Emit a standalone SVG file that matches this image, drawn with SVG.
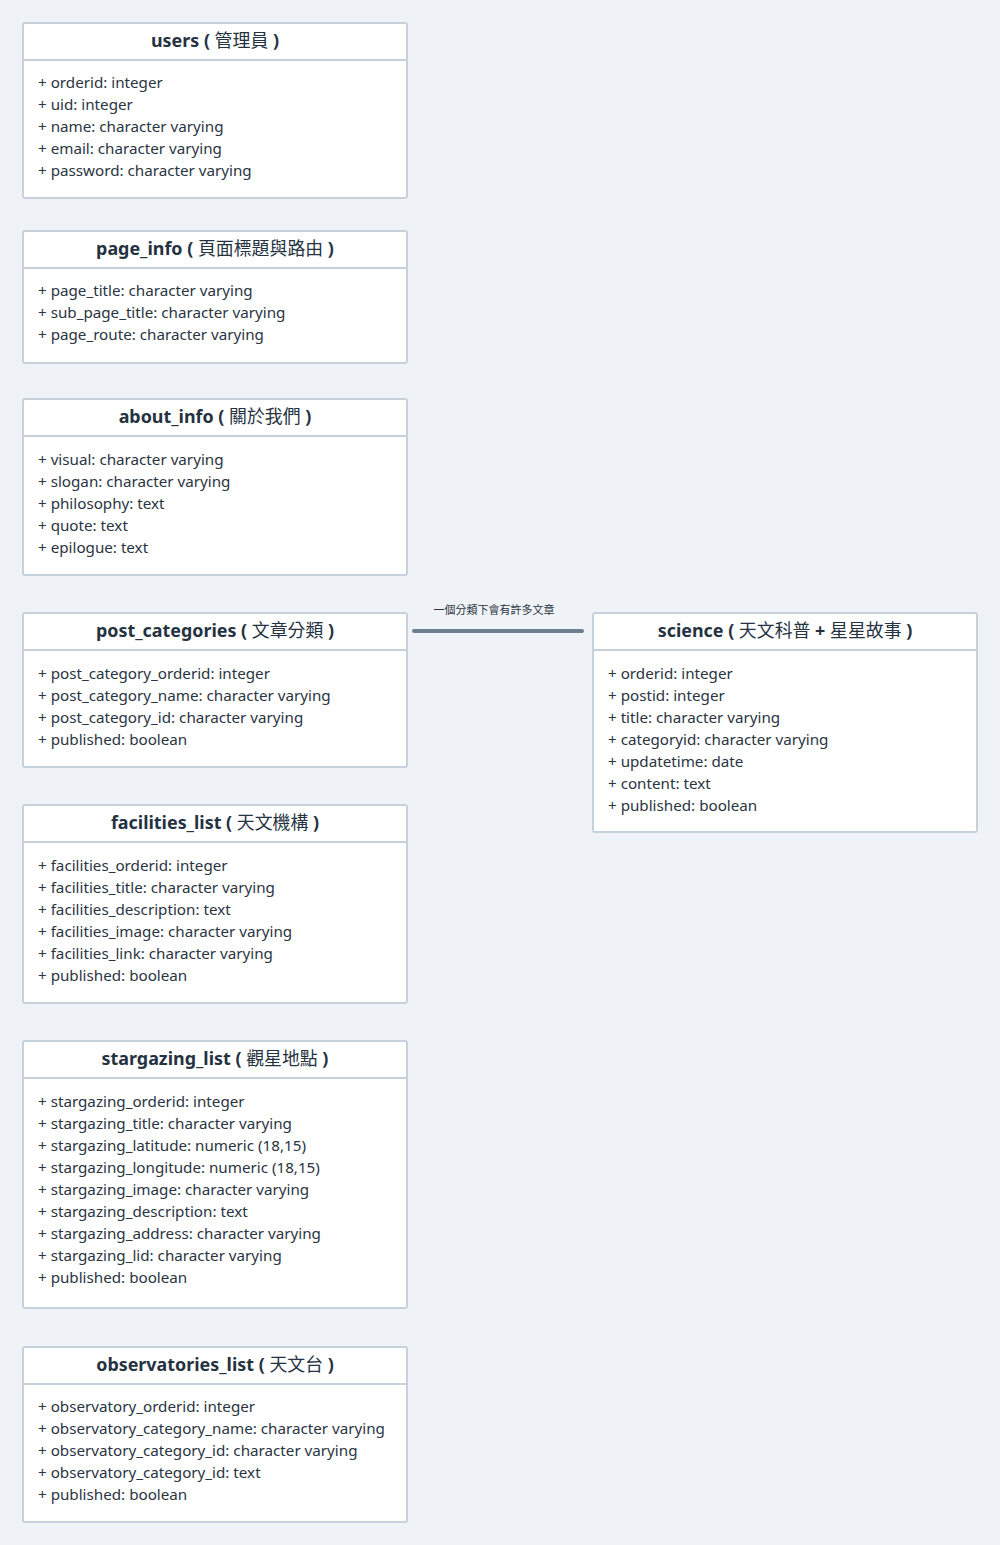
<svg xmlns="http://www.w3.org/2000/svg" width="1000" height="1545" viewBox="0 0 1000 1545">
<style>
.bg{fill:#eff3f7}
.box{fill:#ffffff;stroke:#c7d1db;stroke-width:2}
.sep{stroke:#c7d1db;stroke-width:2}
.title{font-family:"Noto Sans","Noto Sans CJK TC",sans-serif;font-size:17.9px;font-weight:bold;fill:#253241;text-anchor:middle}
.title .cjk{font-weight:normal}
.row{font-family:"Noto Sans","Noto Sans CJK TC",sans-serif;font-size:15.2px;fill:#2a3442}
.lbl{font-family:"Noto Sans","Noto Sans CJK TC",sans-serif;font-size:11px;fill:#2a3442;text-anchor:middle}
.edge{stroke:#6b7f8f;stroke-width:4;stroke-linecap:round;fill:none}
</style>
<rect class="bg" x="0" y="0" width="1000" height="1545"/>
<g id="connectors">
<line class="edge" x1="414" y1="631" x2="582" y2="631"/>
<text class="lbl" x="494" y="614">一個分類下會有許多文章</text>
</g>
<g id="users">
<rect class="box" x="23" y="23" width="384" height="175" rx="2"/>
<line class="sep" x1="23" y1="60" x2="407" y2="60"/>
<text class="title" x="215" y="47">users ( <tspan class="cjk">管理員</tspan> )</text>
<text class="row" x="38" y="88">+ orderid: integer</text>
<text class="row" x="38" y="110">+ uid: integer</text>
<text class="row" x="38" y="132">+ name: character varying</text>
<text class="row" x="38" y="154">+ email: character varying</text>
<text class="row" x="38" y="176">+ password: character varying</text>
</g>
<g id="page_info">
<rect class="box" x="23" y="231" width="384" height="132" rx="2"/>
<line class="sep" x1="23" y1="268" x2="407" y2="268"/>
<text class="title" x="215" y="255">page_info ( <tspan class="cjk">頁面標題與路由</tspan> )</text>
<text class="row" x="38" y="296">+ page_title: character varying</text>
<text class="row" x="38" y="318">+ sub_page_title: character varying</text>
<text class="row" x="38" y="340">+ page_route: character varying</text>
</g>
<g id="about_info">
<rect class="box" x="23" y="399" width="384" height="176" rx="2"/>
<line class="sep" x1="23" y1="436" x2="407" y2="436"/>
<text class="title" x="215" y="423">about_info ( <tspan class="cjk">關於我們</tspan> )</text>
<text class="row" x="38" y="465">+ visual: character varying</text>
<text class="row" x="38" y="487">+ slogan: character varying</text>
<text class="row" x="38" y="509">+ philosophy: text</text>
<text class="row" x="38" y="531">+ quote: text</text>
<text class="row" x="38" y="553">+ epilogue: text</text>
</g>
<g id="post_categories">
<rect class="box" x="23" y="613" width="384" height="154" rx="2"/>
<line class="sep" x1="23" y1="650" x2="407" y2="650"/>
<text class="title" x="215" y="637">post_categories ( <tspan class="cjk">文章分類</tspan> )</text>
<text class="row" x="38" y="679">+ post_category_orderid: integer</text>
<text class="row" x="38" y="701">+ post_category_name: character varying</text>
<text class="row" x="38" y="723">+ post_category_id: character varying</text>
<text class="row" x="38" y="745">+ published: boolean</text>
</g>
<g id="science">
<rect class="box" x="593" y="613" width="384" height="219" rx="2"/>
<line class="sep" x1="593" y1="650" x2="977" y2="650"/>
<text class="title" x="785" y="637">science ( <tspan class="cjk">天文科普</tspan> + <tspan class="cjk">星星故事</tspan> )</text>
<text class="row" x="608" y="679">+ orderid: integer</text>
<text class="row" x="608" y="701">+ postid: integer</text>
<text class="row" x="608" y="723">+ title: character varying</text>
<text class="row" x="608" y="745">+ categoryid: character varying</text>
<text class="row" x="608" y="767">+ updatetime: date</text>
<text class="row" x="608" y="789">+ content: text</text>
<text class="row" x="608" y="811">+ published: boolean</text>
</g>
<g id="facilities_list">
<rect class="box" x="23" y="805" width="384" height="198" rx="2"/>
<line class="sep" x1="23" y1="842" x2="407" y2="842"/>
<text class="title" x="215" y="829">facilities_list ( <tspan class="cjk">天文機構</tspan> )</text>
<text class="row" x="38" y="871">+ facilities_orderid: integer</text>
<text class="row" x="38" y="893">+ facilities_title: character varying</text>
<text class="row" x="38" y="915">+ facilities_description: text</text>
<text class="row" x="38" y="937">+ facilities_image: character varying</text>
<text class="row" x="38" y="959">+ facilities_link: character varying</text>
<text class="row" x="38" y="981">+ published: boolean</text>
</g>
<g id="stargazing_list">
<rect class="box" x="23" y="1041" width="384" height="267" rx="2"/>
<line class="sep" x1="23" y1="1078" x2="407" y2="1078"/>
<text class="title" x="215" y="1065">stargazing_list ( <tspan class="cjk">觀星地點</tspan> )</text>
<text class="row" x="38" y="1107">+ stargazing_orderid: integer</text>
<text class="row" x="38" y="1129">+ stargazing_title: character varying</text>
<text class="row" x="38" y="1151">+ stargazing_latitude: numeric (18,15)</text>
<text class="row" x="38" y="1173">+ stargazing_longitude: numeric (18,15)</text>
<text class="row" x="38" y="1195">+ stargazing_image: character varying</text>
<text class="row" x="38" y="1217">+ stargazing_description: text</text>
<text class="row" x="38" y="1239">+ stargazing_address: character varying</text>
<text class="row" x="38" y="1261">+ stargazing_lid: character varying</text>
<text class="row" x="38" y="1283">+ published: boolean</text>
</g>
<g id="observatories_list">
<rect class="box" x="23" y="1347" width="384" height="175" rx="2"/>
<line class="sep" x1="23" y1="1384" x2="407" y2="1384"/>
<text class="title" x="215" y="1371">observatories_list ( <tspan class="cjk">天文台</tspan> )</text>
<text class="row" x="38" y="1412">+ observatory_orderid: integer</text>
<text class="row" x="38" y="1434">+ observatory_category_name: character varying</text>
<text class="row" x="38" y="1456">+ observatory_category_id: character varying</text>
<text class="row" x="38" y="1478">+ observatory_category_id: text</text>
<text class="row" x="38" y="1500">+ published: boolean</text>
</g>
</svg>
